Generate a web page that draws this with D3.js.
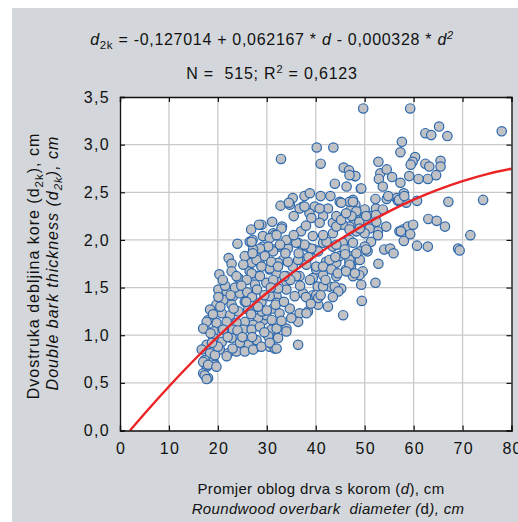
<!DOCTYPE html>
<html><head><meta charset="utf-8">
<script src="https://cdn.jsdelivr.net/npm/d3@7"></script>
<style>
html,body{margin:0;padding:0;background:#fff;}
svg text{font-family:"Liberation Sans",Arial,sans-serif;fill:#111;}
</style></head>
<body>
<svg id="chart" width="518" height="522"></svg>
<script>
// ---- data (d = diameter cm, t = double bark thickness cm) ----
const diameters = [
49.7,59.3,62.4,63.6,65.2,66.9,78.0,57.6,57.3,40.2,43.6,32.9,41.0,52.8,60.3,59.8,59.4,59.1,62.4,63.2,
65.5,65.5,64.6,62.9,61.0,45.7,46.8,48.0,53.2,52.9,54.5,53.7,55.6,57.3,58.0,43.9,46.3,49.2,67.1,74.2,
63.0,64.7,66.4,71.6,60.7,62.9,69.1,69.4,52.2,52.8,54.0,55.2,55.9,57.1,57.8,58.8,59.9,59.3,58.0,54.4,
58.5,60.7,52.2,54.5,56.5,56.8,54.8,
48.1,46.9,49.3,57.0,58.1,47.6,48.1,47.2,48.3,50.0,51.3,52.3,53.7,52.3,50.6,47.6,48.9,52.7,57.4,51.3,
50.0,49.0,50.6,46.9,47.9,47.2,49.6,48.9,46.9,49.4,46.9,46.9,47.6,51.0,48.3,50.0,
32.8,35.3,37.7,41.0,43.0,34.7,37.4,39.8,42.5,44.9,46.9,28.9,31.1,33.1,26.5,29.2,31.3,26.8,37.0,39.4,
43.5,45.5,46.9,44.2,41.5,40.8,38.7,36.7,50.3,52.4,52.7,49.0,50.3,49.0,45.5,43.5,41.5,39.8,38.1,36.4,
34.3,32.6,31.3,29.2,27.5,26.5,28.5,30.6,33.3,35.3,37.4,40.1,42.1,44.2,46.9,46.2,44.2,41.5,39.4,36.7,
34.0,31.9,29.9,27.9,26.5,40.4,42.8,45.2,47.6,49.3,
42.5,40.5,39.4,37.4,35.7,34.0,32.0,31.3,32.6,34.7,36.7,38.4,36.4,34.0,31.6,36.4,30.6,45.6,
43.9,41.5,38.8,36.0,34.0,32.0,30.6,40.1,38.1,36.4,34.3,32.3,46.9,44.9,42.8,41.5,43.2,44.5,46.2,48.0,
48.3,45.9,44.2,42.2,40.5,39.1,37.7,36.0,34.3,31.3,34.0,31.6,33.0,41.5,43.5,44.2,45.2,48.3,47.3,46.2,
40.8,39.1,37.7,34.5,38.8,45.2,47.6,
44.6,40.1,40.5,38.1,34.0,32.3,31.6,27.9,31.0,29.3,
24.0,27.1,30.6,32.0,30.3,28.6,27.2,32.7,22.2,22.8,22.8,24.2,25.5,26.9,25.2,27.9,29.6,30.9,28.9,32.3,
20.3,26.9,28.6,31.3,25.9,27.6,32.3,
20.1,21.8,23.1,24.5,25.5,22.8,21.1,19.7,18.4,20.8,22.5,24.2,26.2,27.9,28.9,30.6,32.0,29.9,28.2,27.2,
25.5,23.8,21.8,19.7,18.0,17.3,19.1,21.1,23.1,25.2,26.9,28.6,31.0,32.0,30.3,27.9,26.2,24.5,22.8,20.8,
19.1,17.7,16.7,18.4,20.4,22.1,23.8,25.5,27.2,28.9,30.6,32.0,17.3,19.1,17.7,17.0,18.0,19.4,
20.1,17.7,17.0,17.0,18.0,17.3,17.7,19.7,21.8,19.4,
23.8,26.9,27.1,28.4,
19.0,20.5,21.5,23.5,24.8,26.0,27.0,28.0,29.5,30.8,31.8,33.5,29.0,26.8,24.0,22.0,20.0,18.8,23.0,25.0,
27.0,29.5,33.0,35.0,34.8,36.8,38.0,39.0,41.0,42.0,43.5,44.0,46.0,38.5,36.5,33.8,35.5,38.0,35.5,21.0,
23.2,25.8,28.2,30.0,33.6,18.5,22.6
];
const thickness = [
3.38,3.38,3.12,3.10,3.19,3.09,3.14,3.03,2.92,2.97,2.97,2.85,2.80,2.82,2.87,2.82,2.79,2.67,2.80,2.77,
2.83,2.77,2.68,2.64,2.64,2.76,2.73,2.67,2.70,2.64,2.74,2.56,2.66,2.60,2.49,2.59,2.56,2.54,2.40,2.42,
2.22,2.20,2.14,2.05,1.94,1.93,1.91,1.89,1.55,1.75,1.90,1.91,1.86,2.09,2.11,2.14,2.16,2.06,1.99,2.14,
2.39,2.41,2.43,2.43,2.44,2.41,2.46,
2.67,2.68,2.54,2.42,2.46,2.42,2.37,2.32,2.28,2.32,2.25,2.33,2.32,2.26,2.18,2.16,2.19,2.09,2.09,1.98,
1.93,1.88,1.88,1.83,1.79,1.72,1.67,1.63,1.76,1.36,2.14,2.00,1.97,2.12,2.09,2.07,
2.36,2.44,2.46,2.46,2.46,2.37,2.35,2.35,2.33,2.40,2.40,2.16,2.19,2.14,1.98,2.04,2.07,2.11,2.09,2.04,
2.18,2.16,2.11,2.25,2.25,2.33,2.28,2.33,2.25,2.19,2.05,2.12,1.90,1.79,1.97,1.93,1.97,1.90,1.93,1.97,
1.98,1.93,1.90,1.93,1.86,1.83,1.76,1.69,1.79,1.72,1.77,1.69,1.77,1.76,1.79,1.69,1.62,1.63,1.60,1.62,
1.56,1.58,1.55,1.62,1.67,1.51,1.51,1.49,1.62,1.53,
1.30,1.32,1.42,1.44,1.41,1.48,1.41,1.28,1.23,1.28,1.23,1.25,1.14,1.07,1.04,0.90,0.88,1.21,
1.51,1.51,1.58,1.62,1.62,1.65,1.70,1.72,1.74,1.79,1.77,1.76,1.74,1.83,1.79,1.72,1.69,1.65,1.67,1.65,
1.86,1.90,1.95,1.98,1.88,1.91,1.95,1.97,1.91,1.88,2.00,2.05,2.12,2.05,2.07,2.14,2.21,2.30,2.25,2.28,
2.18,2.23,2.35,2.39,2.49,2.39,2.40,
1.46,1.42,1.39,1.23,1.04,0.97,0.86,0.88,1.06,1.16,
1.96,2.00,2.02,2.05,1.93,1.91,1.90,1.95,1.81,1.75,1.67,1.60,1.83,1.76,1.74,1.79,1.83,1.77,1.72,1.72,
1.64,1.65,1.62,1.58,1.58,1.53,1.49,
1.48,1.46,1.41,1.44,1.35,1.32,1.37,1.32,1.27,1.23,1.21,1.25,1.27,1.30,1.35,1.41,1.34,1.21,1.18,1.11,
1.14,1.13,1.14,1.13,1.16,1.07,1.04,1.06,1.06,1.06,1.06,1.09,1.16,1.07,0.99,0.95,0.90,0.92,0.97,0.93,
0.97,0.90,0.85,0.81,0.85,0.81,0.83,0.83,0.85,0.88,0.92,0.86,0.74,0.72,0.67,0.60,0.55,0.69,
1.40,1.14,1.07,0.72,0.69,0.58,0.54,0.67,0.78,0.79,
1.62,1.98,1.86,2.16,
1.22,1.30,1.52,1.50,1.52,1.45,1.40,1.48,1.42,1.50,1.32,1.35,1.25,1.22,1.05,0.98,0.88,0.92,0.86,0.98,
0.98,1.03,1.15,1.18,1.58,1.52,1.40,1.33,1.42,1.58,1.40,1.82,1.85,1.82,1.86,1.86,2.05,2.15,2.25,1.58,
1.28,1.35,1.30,1.26,1.62,1.02,1.42
];
// fitted regression curve values (d2k = -0,127014 + 0,062167*d - 0,000328*d^2), read at these diameters
const fitD = [2.05, 5, 10, 15, 20, 25, 30, 35, 40, 45, 50, 55, 60, 65, 70, 75, 80];
const fitT = [0.0, 0.176, 0.462, 0.732, 0.985, 1.222, 1.443, 1.647, 1.835, 2.006, 2.161, 2.300, 2.422, 2.528, 2.617, 2.691, 2.747];
const xTicks = [0, 10, 20, 30, 40, 50, 60, 70, 80];
const yTicks = [0, 0.5, 1, 1.5, 2, 2.5, 3, 3.5];

const svg = d3.select("#chart");
const L = 120, R = 511.5, T = 97, B = 430.5;
const x = d3.scaleLinear().domain([0, 80]).range([L, R]);
const y = d3.scaleLinear().domain([0, 3.5]).range([B, T]);
const fmt = v => d3.format(".1f")(v).replace(".", ",");

// grey background panel
svg.append("rect").attr("x", 12).attr("y", 8).attr("width", 506).attr("height", 514).attr("fill", "#d3d7db");
// plot area
svg.append("rect").attr("x", L).attr("y", T).attr("width", R - L).attr("height", B - T).attr("fill", "#fff");

// grid
const grid = svg.append("g").attr("stroke", "#c9c9c9").attr("stroke-width", 1.3);
grid.selectAll("line.v").data(xTicks.slice(1, -1)).join("line")
  .attr("x1", d => x(d)).attr("x2", d => x(d)).attr("y1", T).attr("y2", B);
grid.selectAll("line.h").data(yTicks.slice(1, -1)).join("line")
  .attr("y1", d => y(d)).attr("y2", d => y(d)).attr("x1", L).attr("x2", R);

// points
svg.append("g").selectAll("circle").data(diameters.map((d, i) => [d, thickness[i]])).join("circle")
  .attr("cx", d => x(d[0])).attr("cy", d => y(d[1])).attr("r", 4.7)
  .attr("fill", "#bfc1c4").attr("stroke", "#2a67ad").attr("stroke-width", 1.2);

// fitted curve
const line = d3.line().x(d => x(d[0])).y(d => y(d[1])).curve(d3.curveNatural);
svg.append("path").datum(fitD.map((d, i) => [d, fitT[i]]))
  .attr("d", line).attr("fill", "none").attr("stroke", "#ec2224").attr("stroke-width", 2.4);

// axes (inward ticks)
const xAxis = svg.append("g").attr("transform", `translate(0,${B})`)
  .call(d3.axisBottom(x).tickValues(xTicks).tickSize(-5).tickPadding(12).tickFormat(d3.format("d")));
const yAxis = svg.append("g").attr("transform", `translate(${L},0)`)
  .call(d3.axisLeft(y).tickValues(yTicks).tickSize(-5).tickPadding(10).tickFormat(fmt));
const xTop = svg.append("g").attr("transform", `translate(0,${T})`)
  .call(d3.axisTop(x).tickValues(xTicks).tickSize(-5).tickFormat(""));
const yRight = svg.append("g").attr("transform", `translate(${R},0)`)
  .call(d3.axisRight(y).tickValues(yTicks).tickSize(-5).tickFormat(""));
[xAxis, yAxis, xTop, yRight].forEach(g => {
  g.selectAll(".domain").attr("stroke", "#111").attr("stroke-width", 1.3);
  g.selectAll(".tick line").attr("stroke", "#111").attr("stroke-width", 1.2);
  g.selectAll("text").style("font-size", "16px").attr("fill", "#111")
    .style("letter-spacing", "1.3px")
    .style("font-family", '"Liberation Sans",Arial,sans-serif');
});
xAxis.selectAll("text").attr("dx", "0.6");

// titles
const t1 = svg.append("text").attr("x", 272).attr("y", 45).attr("text-anchor", "middle")
  .style("font-size", "16px").style("letter-spacing", "0.7px");
t1.append("tspan").style("font-style", "italic").text("d");
t1.append("tspan").attr("dy", 4).style("font-size", "11.5px").text("2k");
t1.append("tspan").attr("dy", -4).text(" = -0,127014 + 0,062167 * ");
t1.append("tspan").style("font-style", "italic").text("d");
t1.append("tspan").text(" - 0,000328 * ");
t1.append("tspan").style("font-style", "italic").text("d");
t1.append("tspan").attr("dy", -6).style("font-size", "11px").style("font-style", "italic").text("2");

const t2 = svg.append("text").attr("x", 272).attr("y", 79).attr("text-anchor", "middle")
  .style("font-size", "16px").style("letter-spacing", "0.8px").style("white-space", "pre");
t2.append("tspan").text("N =  515; R");
t2.append("tspan").attr("dy", -6).style("font-size", "11px").text("2");
t2.append("tspan").attr("dy", 6).text(" = 0,6123");

// x axis title
const xt1 = svg.append("text").attr("x", 321).attr("y", 494).attr("text-anchor", "middle")
  .style("font-size", "15px").style("letter-spacing", "0.35px");
xt1.append("tspan").text("Promjer oblog drva s korom (");
xt1.append("tspan").style("font-style", "italic").text("d");
xt1.append("tspan").text("), cm");
const xt2 = svg.append("text").attr("x", 328).attr("y", 514).attr("text-anchor", "middle")
  .style("font-size", "15px").style("font-style", "italic").style("letter-spacing", "0.35px").style("white-space", "pre");
xt2.append("tspan").text("Roundwood overbark  diameter (");
xt2.append("tspan").style("font-style", "normal").text("d");
xt2.append("tspan").text("), cm");

// y axis title
const yt1 = svg.append("text").attr("transform", "translate(39,266) rotate(-90)").attr("text-anchor", "middle")
  .style("font-size", "16px").style("letter-spacing", "1px");
yt1.append("tspan").text("Dvostruka debljina kore (d");
yt1.append("tspan").attr("dy", 4).style("font-size", "11.5px").text("2k");
yt1.append("tspan").attr("dy", -4).text("), cm");
const yt2 = svg.append("text").attr("transform", "translate(58,263) rotate(-90)").attr("text-anchor", "middle")
  .style("font-size", "16px").style("font-style", "italic").style("letter-spacing", "1px");
yt2.append("tspan").text("Double bark thickness (d");
yt2.append("tspan").attr("dy", 4).style("font-size", "11.5px").text("2k");
yt2.append("tspan").attr("dy", -4).text("), cm");
</script>
</body></html>
